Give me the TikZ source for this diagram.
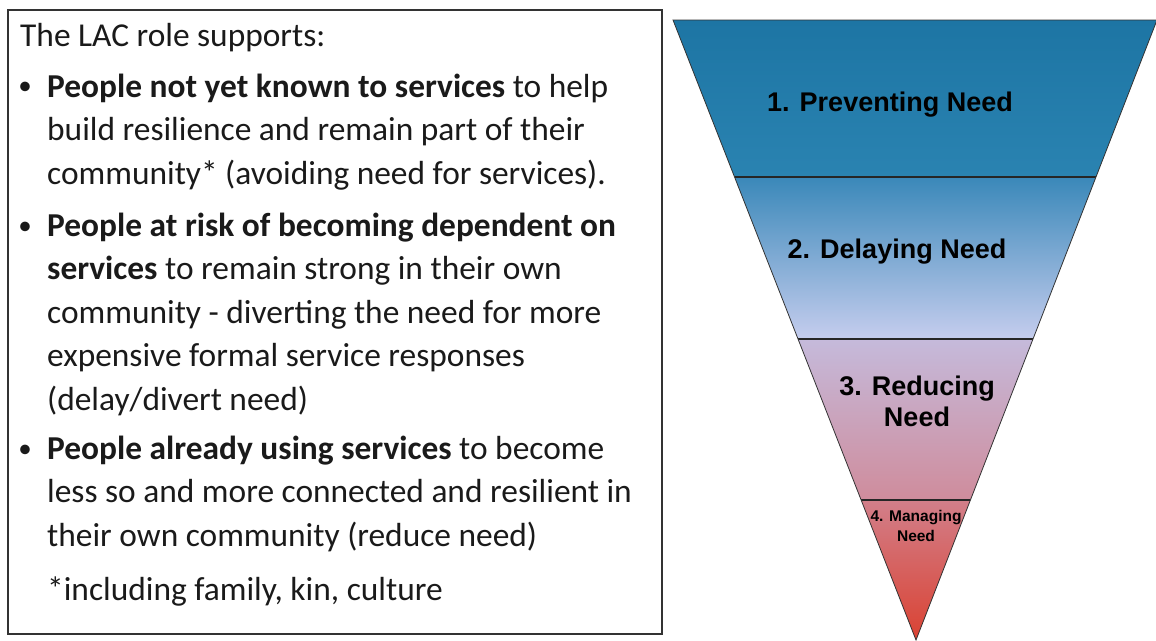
\documentclass[tikz,border=0pt]{standalone}
\usepackage{fontspec}
\setmainfont{Carlito}
\newfontfamily\arialf{Liberation Sans}
\usetikzlibrary{calc}
\definecolor{txt}{HTML}{1A1A1A}
\definecolor{boxline}{HTML}{333333}
\definecolor{aTop}{HTML}{1D75A4}
\definecolor{aBot}{HTML}{2A83B1}
\definecolor{bTop}{HTML}{3A88B9}
\definecolor{bMid}{HTML}{76A7D0}
\definecolor{bBot}{HTML}{C5CDEE}
\definecolor{cTop}{HTML}{C5BADB}
\definecolor{cBot}{HTML}{CF8C9C}
\definecolor{dTop}{HTML}{D27F8A}
\definecolor{dBot}{HTML}{DA4232}
\begin{document}
\begin{tikzpicture}[x=1pt,y=-1pt,
  body/.style={anchor=base west, inner sep=0pt, align=left, text=txt,
    font=\fontsize{33.4}{43.5}\selectfont},
  bul/.style={anchor=base, inner sep=0pt, text=txt, font=\fontsize{27}{43.5}\selectfont},
  lvl/.style={inner sep=0pt, align=center, text=black,
    font=\arialf\bfseries\fontsize{27}{31}\selectfont},
  lvlsmall/.style={inner sep=0pt, align=center, text=black,
    font=\arialf\bfseries\fontsize{15.5}{20}\selectfont},
  divider/.style={draw=black!85, line width=1.3pt},
  outline/.style={draw=black!80, line width=0.8pt, line join=miter}]
\useasboundingbox (0,0) rectangle (1156,640);
% left box
\node[draw=boxline, line width=1.5pt, minimum width=654pt, minimum height=624pt,
  anchor=north west, inner sep=0pt, fill=white] (box) at (7,9) {};
% multi-line nodes: base anchor sits on the last line's baseline
\node[body] (intro) at (20,46) {The LAC role supports:};
\node[bul] (b1) at (25,94) {\textbullet};
\node[body] (p1) at (47,184) {\textbf{People not yet known to services} to help\\build resilience and remain part of their\\community* (avoiding need for services).};
\node[bul] (b2) at (25,234) {\textbullet};
\node[body] (p2) at (47,410) {\textbf{People at risk of becoming dependent on}\\\textbf{services} to remain strong in their own\\community - diverting the need for more\\expensive formal service responses\\(delay/divert need)};
\node[bul] (b3) at (25,457) {\textbullet};
\node[body] (p3) at (47,546) {\textbf{People already using services} to become\\less so and more connected and resilient in\\their own community (reduce need)};
\node[body] (foot) at (47,600) {*including family, kin, culture};
% triangle
\coordinate (tl) at (673,20);
\coordinate (tr) at (1157,20);
\coordinate (ap) at (916,640);
\coordinate (l1) at ($(tl)!0.2532!(ap)$);
\coordinate (r1) at ($(tr)!0.2532!(ap)$);
\coordinate (l2) at ($(tl)!0.5145!(ap)$);
\coordinate (r2) at ($(tr)!0.5145!(ap)$);
\coordinate (l3) at ($(tl)!0.7742!(ap)$);
\coordinate (r3) at ($(tr)!0.7742!(ap)$);
\shade[top color=aTop, bottom color=aBot] (tl) -- (tr) -- (r1) -- (l1) -- cycle;
\shade[top color=bTop, middle color=bMid, bottom color=bBot] (l1) -- (r1) -- (r2) -- (l2) -- cycle;
\shade[top color=cTop, bottom color=cBot] (l2) -- (r2) -- (r3) -- (l3) -- cycle;
\shade[top color=dTop, bottom color=dBot] (l3) -- (r3) -- (ap) -- cycle;
\draw[divider] (l1) -- (r1);
\draw[divider] (l2) -- (r2);
\draw[divider] (l3) -- (r3);
\draw[outline] (tl) -- (tr) -- (ap) -- cycle;
\node[lvl] (n1) at (890,105) {1. Preventing Need};
\node[lvl] (n2) at (897,252) {2. Delaying Need};
\node[lvl] (n3) at (917,401) {3. Reducing\\Need};
\node[lvlsmall] (n4) at (916,526) {4. Managing\\Need};
\end{tikzpicture}
\end{document}
